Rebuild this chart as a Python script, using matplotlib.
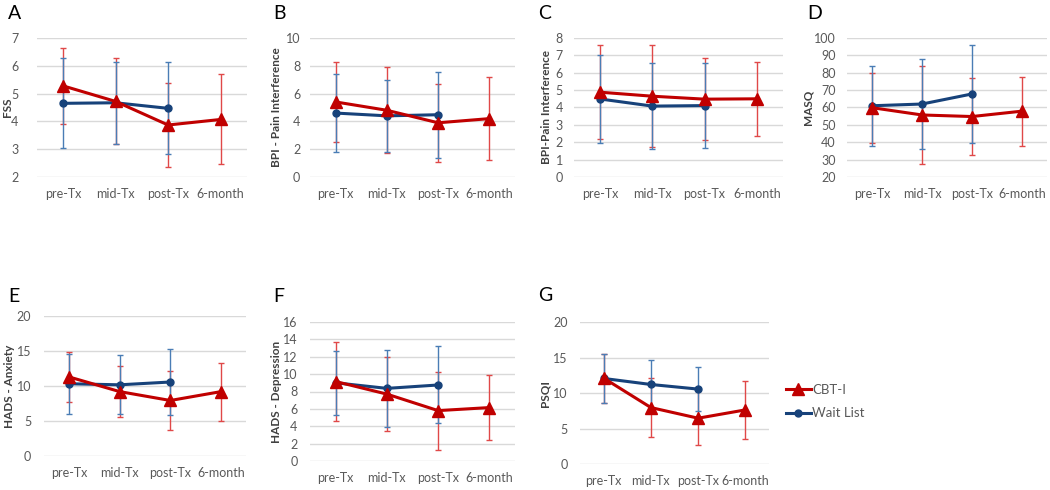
import numpy as np
import matplotlib.pyplot as plt
from matplotlib.lines import Line2D

# Tijdstippen
categories = ['pre-Tx', 'mid-Tx', 'post-Tx', '6-month']

# A - FSS
fss_cbt = [5.28, 4.72, 3.87, 4.07]
fss_cbt_sd = [1.36, 1.55, 1.51, 1.62]
fss_wl = [4.65, 4.67, 4.47]
fss_wl_sd = [1.62, 1.47, 1.65]

# B - BPI Pain Interference
bpi_cbt = [5.40, 4.80, 3.90, 4.20]
bpi_cbt_sd = [2.87, 3.10, 2.80, 2.97]
bpi_wl = [4.60, 4.40, 4.48]
bpi_wl_sd = [2.80, 2.60, 3.10]

# C - BPI-Pain Interference
bpi2_cbt = [4.88, 4.65, 4.48, 4.50]
bpi2_cbt_sd = [2.69, 2.93, 2.37, 2.13]
bpi2_wl = [4.49, 4.08, 4.11]
bpi2_wl_sd = [2.53, 2.46, 2.46]

# D - MASQ
masq_cbt = [59.9, 55.7, 54.8, 57.9]
masq_cbt_sd = [20.1, 28.1, 22.0, 19.9]
masq_wl = [61.0, 62.0, 67.8]
masq_wl_sd = [23.0, 25.9, 28.2]

# E - HADS Anxiety
hads_a_cbt = [11.30, 9.20, 7.93, 9.20]
hads_a_cbt_sd = [3.58, 3.68, 4.18, 4.15]
hads_a_wl = [10.32, 10.17, 10.57]
hads_a_wl_sd = [4.27, 4.20, 4.72]

# F - HADS Depression
hads_d_cbt = [9.15, 7.70, 5.80, 6.15]
hads_d_cbt_sd = [4.60, 4.26, 4.50, 3.70]
hads_d_wl = [9.00, 8.36, 8.75]
hads_d_wl_sd = [3.70, 4.41, 4.43]

# G - PSQI
psqi_cbt = [12.10, 7.95, 6.45, 7.62]
psqi_cbt_sd = [3.45, 4.10, 3.80, 4.10]
psqi_wl = [12.05, 11.20, 10.55]
psqi_wl_sd = [3.50, 3.40, 3.05]

letters = ['A', 'B', 'C', 'D', 'E', 'F', 'G']
ylabels = ['FSS', 'BPI - Pain Interference', 'BPI-Pain Interference', 'MASQ',
		   'HADS - Anxiety', 'HADS - Depression', 'PSQI']
yranges = [(2, 7, 1), (0, 10, 2), (0, 8, 1), (20, 100, 10), (0, 20, 5), (0, 16, 2), (0, 20, 5)]

W, H = 1050, 490
RED = '#C00000'
RED_ERR = '#E04848'
BLUE = '#17427A'
BLUE_ERR = '#4A7DB5'
GRID = '#D9D9D9'
TEXT = '#595959'


def main():
	plt.rcParams['font.family'] = ['Lato', 'DejaVu Sans']
	fig = plt.figure(figsize=(W / 100, H / 100), dpi=100)

	data = [
		(fss_cbt, fss_cbt_sd, fss_wl, fss_wl_sd),
		(bpi_cbt, bpi_cbt_sd, bpi_wl, bpi_wl_sd),
		(bpi2_cbt, bpi2_cbt_sd, bpi2_wl, bpi2_wl_sd),
		(masq_cbt, masq_cbt_sd, masq_wl, masq_wl_sd),
		(hads_a_cbt, hads_a_cbt_sd, hads_a_wl, hads_a_wl_sd),
		(hads_d_cbt, hads_d_cbt_sd, hads_d_wl, hads_d_wl_sd),
		(psqi_cbt, psqi_cbt_sd, psqi_wl, psqi_wl_sd),
	]

	# Plotgebieden in pixels: links, rechts, boven, onder, x ylabel, ytick pad, letter x/y
	boxes = [
		(36.6, 247, 38, 177, 7, 13, 8, 19),
		(310, 515, 38, 177, 276, 7, 273, 19),
		(574, 783, 38, 177, 546, 8, 538, 19),
		(847, 1047, 38, 177, 808, 8, 807, 19),
		(43.6, 246.4, 316, 456, 10, 9, 8, 302),
		(310, 515, 322, 461, 276, 9, 273, 302),
		(580, 769, 322, 464, 545, 9, 538, 301),
	]

	x = np.arange(len(categories))
	for i, (cbt, cbt_sd, wl, wl_sd) in enumerate(data):
		l, r, t, b, lx, pad, tx, ty = boxes[i]
		ax = fig.add_axes([l / W, 1 - b / H, (r - l) / W, (b - t) / H])
		xw = x[:len(wl)]

		# Foutbalken
		ax.errorbar(x, cbt, yerr=cbt_sd, fmt='none', ecolor=RED_ERR, elinewidth=1,
					capsize=2.3, capthick=1, zorder=3)
		ax.errorbar(xw, wl, yerr=wl_sd, fmt='none', ecolor=BLUE_ERR, elinewidth=1,
					capsize=2.3, capthick=1, zorder=4)
		# Lijnen
		ax.plot(xw, wl, color=BLUE, linewidth=2.2, marker='o', markersize=5, zorder=5)
		ax.plot(x, cbt, color=RED, linewidth=2.2, marker='^', markersize=8, zorder=6)

		lo, hi, step = yranges[i]
		ax.set_ylim(lo, hi)
		ax.set_yticks(np.arange(lo, hi + step / 2, step))
		ax.set_xlim(-0.5, len(categories) - 0.5)
		ax.set_xticks(x)
		ax.set_xticklabels(categories)
		ax.grid(axis='y', color=GRID, linewidth=1)
		ax.set_axisbelow(True)
		for s in ax.spines.values():
			s.set_visible(False)
		ax.tick_params(axis='y', length=0, pad=pad, labelsize=9, labelcolor=TEXT)
		ax.tick_params(axis='x', length=0, pad=8, labelsize=9, labelcolor=TEXT)

		ax.set_ylabel(ylabels[i], fontsize=8.5, fontweight='bold', color='#404040')
		ax.yaxis.label.set_va('center')
		ax.yaxis.set_label_coords((lx - l) / (r - l), 0.5)
		fig.text(tx / W, 1 - ty / H, letters[i], fontsize=14, color='black',
				 ha='left', va='baseline')

	# Legenda
	handles = [
		Line2D([], [], color=RED, linewidth=2.2, marker='^', markersize=8),
		Line2D([], [], color=BLUE, linewidth=2.2, marker='o', markersize=5),
	]
	fig.legend(handles, ['CBT-I', 'Wait List'], loc='upper left',
			   bbox_to_anchor=(779 / W, 1 - 377 / H), frameon=False, fontsize=9.5,
			   labelcolor=TEXT, handlelength=1.9, handletextpad=0.1, labelspacing=0.9,
			   borderpad=0)

	fig.savefig('out.png', dpi=100)


if __name__ == '__main__':
	main()
